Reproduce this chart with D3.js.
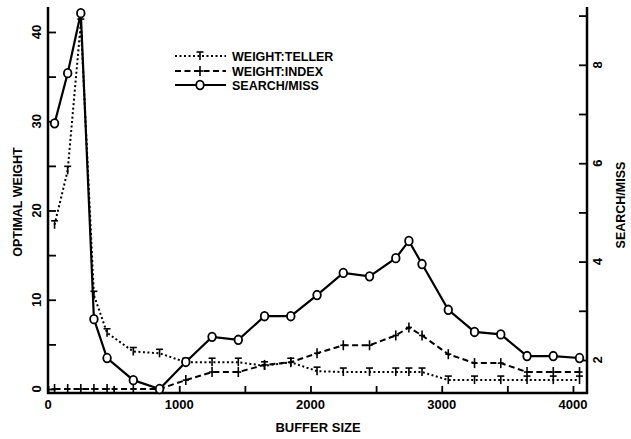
<!DOCTYPE html>
<html><head><meta charset="utf-8">
<script src="https://cdn.jsdelivr.net/npm/d3@7"></script>
<style>body{margin:0;background:#fff}svg{display:block}text{font-family:"Liberation Sans",Arial,sans-serif;font-weight:bold;fill:#000}</style>
</head><body><svg id="c" width="631" height="439"></svg>
<script>
const bufferSize = [50,150,250,350,450,650,850,1050,1250,1450,1650,1850,2050,2250,2450,2650,2750,2850,3050,3250,3450,3650,3850,4050];
const weightTeller = [18.4,24.5,41,10.5,6.3,4.2,4.0,3.0,3.0,3.0,2.6,3.0,2.0,1.9,1.9,1.9,1.9,1.9,1.0,1.0,1.0,1.0,1.0,1.0];
const weightIndex  = [0,0,0,0,0,0,0,1.0,1.9,1.9,2.7,3.0,4.0,4.9,4.9,6.0,6.9,6.0,3.9,2.9,2.9,1.9,1.9,1.9];
const searchMiss   = [6.81,7.83,9.05,2.83,2.04,1.59,1.41,1.96,2.47,2.41,2.89,2.89,3.32,3.77,3.70,4.07,4.42,3.95,3.02,2.57,2.52,2.08,2.08,2.04];
const xTicks = [0,1000,2000,3000,4000];
const xMinor = [500,1500,2500,3500];
const leftTicks = [0,10,20,30,40];
const leftMinor = [5,15,25,35];
const rightTicks = [2,4,6,8];
const rightMinor = [3,5,7,9];
const legendLabels = ["WEIGHT:TELLER","WEIGHT:INDEX","SEARCH/MISS"];

const svg = d3.select("#c");
const L=48, R=587, B=393, T=7;
const x = d3.scaleLinear().domain([0,4107]).range([L,R]);
const yL = d3.scaleLinear().domain([-0.448,42.8]).range([B,T]);
const yR = d3.scaleLinear().domain([1.329,9.175]).range([B,T]);

// axes
const ax = svg.append("g");
ax.append("line").attr("x1",L).attr("x2",L).attr("y1",T).attr("y2",B+1).attr("stroke","#000").attr("stroke-width",2.5);
ax.append("line").attr("x1",R).attr("x2",R).attr("y1",T).attr("y2",B+1).attr("stroke","#000").attr("stroke-width",2.5);
ax.append("line").attr("x1",L-1).attr("x2",R+1).attr("y1",B).attr("y2",B).attr("stroke","#000").attr("stroke-width",2.5);

const gx = svg.append("g").attr("transform",`translate(0,${B})`)
  .call(d3.axisTop(x).tickValues(xTicks.concat(xMinor)).tickSize(7).tickFormat(""));
gx.select(".domain").remove();
gx.selectAll(".tick line").attr("stroke-width",1.8);
svg.selectAll(".xl").data(xTicks).join("text").attr("x",d=>x(d)).attr("y",409)
  .attr("text-anchor","middle").attr("font-size",13).text(d=>d);

const gl = svg.append("g").attr("transform",`translate(${L},0)`)
  .call(d3.axisRight(yL).tickValues(leftTicks.concat(leftMinor)).tickSize(8).tickFormat(""));
gl.select(".domain").remove();
gl.selectAll(".tick line").attr("stroke-width",1.8);
svg.selectAll(".yl").data(leftTicks).join("text")
  .attr("transform",d=>`translate(${41},${yL(d)}) rotate(-90)`)
  .attr("text-anchor","middle").attr("font-size",13).text(d=>d);

const gr = svg.append("g").attr("transform",`translate(${R},0)`)
  .call(d3.axisLeft(yR).tickValues(rightTicks.concat(rightMinor)).tickSize(8).tickFormat(""));
gr.select(".domain").remove();
gr.selectAll(".tick line").attr("stroke-width",1.8);
svg.selectAll(".yr").data(rightTicks).join("text")
  .attr("transform",d=>`translate(${602},${yR(d)}) rotate(-90)`)
  .attr("text-anchor","middle").attr("font-size",13).text(d=>d);

svg.append("text").attr("x",318).attr("y",432).attr("text-anchor","middle").attr("font-size",13).text("BUFFER SIZE");
svg.append("text").attr("transform","translate(22,202) rotate(-90)").attr("text-anchor","middle").attr("font-size",12.5).text("OPTIMAL WEIGHT");
svg.append("text").attr("transform","translate(625,205) rotate(-90)").attr("text-anchor","middle").attr("font-size",12.5).text("SEARCH/MISS");

// lines
const lineL = d3.line().x((d,i)=>x(bufferSize[i])).y(d=>yL(d));
const lineR = d3.line().x((d,i)=>x(bufferSize[i])).y(d=>yR(d));
svg.append("path").attr("d",lineL(weightTeller)).attr("fill","none").attr("stroke","#000").attr("stroke-width",2).attr("stroke-dasharray","2,2.5");
svg.append("path").attr("d",lineL(weightIndex)).attr("fill","none").attr("stroke","#000").attr("stroke-width",2).attr("stroke-dasharray","6,3.5");
svg.append("path").attr("d",lineR(searchMiss)).attr("fill","none").attr("stroke","#000").attr("stroke-width",2.2);

function tMark(g,cx,cy){
  g.append("line").attr("x1",cx-3.5).attr("x2",cx+3.5).attr("y1",cy-4).attr("y2",cy-4).attr("stroke","#000").attr("stroke-width",1.6);
  g.append("line").attr("x1",cx).attr("x2",cx).attr("y1",cy-4).attr("y2",cy+4).attr("stroke","#000").attr("stroke-width",1.6);
}
function plusMark(g,cx,cy){
  g.append("line").attr("x1",cx-3).attr("x2",cx+3).attr("y1",cy).attr("y2",cy).attr("stroke","#000").attr("stroke-width",1.6);
  g.append("line").attr("x1",cx).attr("x2",cx).attr("y1",cy-5).attr("y2",cy+5).attr("stroke","#000").attr("stroke-width",1.6);
}
function oMark(g,cx,cy){
  g.append("ellipse").attr("cx",cx).attr("cy",cy).attr("rx",3.8).attr("ry",4.3).attr("fill","#fff").attr("stroke","#000").attr("stroke-width",1.8);
}
const mg = svg.append("g");
weightTeller.forEach((v,i)=>tMark(mg,x(bufferSize[i]),yL(v)));
weightIndex.forEach((v,i)=>plusMark(mg,x(bufferSize[i]),yL(v)));
searchMiss.forEach((v,i)=>oMark(mg,x(bufferSize[i]),yR(v)));

// legend
const lg = svg.append("g");
const ly = [56,71,85];
const dashes = ["2,2.5","6,3.5",null];
const marks = [tMark,plusMark,oMark];
legendLabels.forEach((lab,i)=>{
  const p = lg.append("line").attr("x1",175).attr("x2",226).attr("y1",ly[i]).attr("y2",ly[i]).attr("stroke","#000").attr("stroke-width",i==2?2:1.8);
  if(dashes[i]) p.attr("stroke-dasharray",dashes[i]);
  marks[i](lg,200,ly[i]);
  lg.append("text").attr("x",232).attr("y",ly[i]+4.5).attr("font-size",12.5).text(lab);
});
</script></body></html>
